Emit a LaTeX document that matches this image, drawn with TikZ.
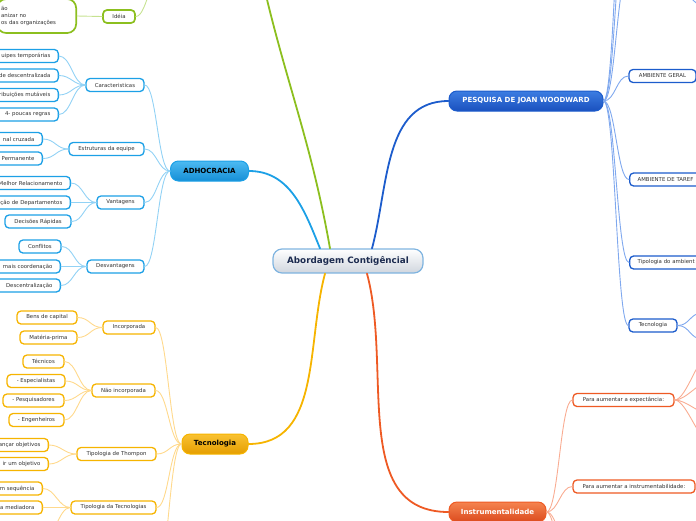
\documentclass[tikz,border=0pt]{standalone}
\usepackage{fontspec}
\setmainfont{DejaVu Sans}
\usetikzlibrary{calc}
\newlength{\upx}
\setlength{\upx}{0.03cm}
\definecolor{leafText}{HTML}{333333}
\definecolor{rootText}{HTML}{1C2B4F}
\definecolor{rootLine}{HTML}{7FB4E0}
\definecolor{rootShade}{HTML}{D0D6DE}
\definecolor{adhoLine}{HTML}{1CA0E6}
\definecolor{adhoTop}{HTML}{4CBAF2}
\definecolor{adhoBot}{HTML}{168FD6}
\definecolor{adhoTwig}{HTML}{92D2F5}
\definecolor{pesqLine}{HTML}{1C5CCC}
\definecolor{pesqTop}{HTML}{3C7DE2}
\definecolor{pesqBot}{HTML}{1A50BE}
\definecolor{pesqTwig}{HTML}{7FA8EE}
\definecolor{tecLine}{HTML}{F6B400}
\definecolor{tecTop}{HTML}{F9C232}
\definecolor{tecBot}{HTML}{E59E00}
\definecolor{tecTwig}{HTML}{FFD98C}
\definecolor{instrLine}{HTML}{EE5A24}
\definecolor{instrTop}{HTML}{F5844F}
\definecolor{instrBot}{HTML}{DB4A1E}
\definecolor{instrTwig}{HTML}{F9AC92}
\definecolor{ideiaLine}{HTML}{8CBF1F}
\definecolor{ideiaTwig}{HTML}{C6E290}

\begin{document}
\begin{tikzpicture}[x=0.03cm, y=-0.03cm, line join=round, line cap=round]
  % 统一设置：叶节点、主题节点、连线样式
  \tikzset{
    leaf/.style={font=\fontsize{4.6pt}{5.8pt}\selectfont, text=leafText, draw=#1,
      line width=1.3\upx, fill=white, rounded corners=4\upx,
      minimum height=13\upx, inner xsep=8\upx, inner ysep=0pt},
    cut left/.style={anchor=east, text width=#1, align=right},
    cut right/.style={anchor=west, text width=#1, align=left},
    topic/.style={font=\fontsize{6pt}{7pt}\selectfont\bfseries, draw=#1,
      line width=1\upx, rounded corners=8\upx, minimum height=20\upx, inner xsep=6\upx},
    twigL/.style={draw=#1, line width=0.9\upx, out=180, in=0,
      out distance=12\upx, in distance=12\upx},
    twigR/.style={draw=#1, line width=0.9\upx, out=0, in=180,
      out distance=12\upx, in distance=12\upx},
    bough/.style={draw=#1, line width=1.8\upx}
  }
  % 画布范围（与参考图同尺寸）
  \useasboundingbox (0,0) rectangle (696,520);

  % =======================
  % 中心节点
  % =======================
  \node[font=\fontsize{7.5pt}{9pt}\selectfont\bfseries, text=rootText, draw=rootLine,
    line width=1.2\upx, rounded corners=9\upx, top color=white, bottom color=rootShade,
    minimum width=150\upx, minimum height=24\upx] (root) at (348,261) {Abordagem Contigêncial};

  % =======================
  % 分支 1：ADHOCRACIA
  % =======================
  \node[topic=adhoLine, top color=adhoTop, bottom color=adhoBot, minimum width=78\upx] (adho) at (209.5,171) {ADHOCRACIA};
  \node[leaf=adhoLine, minimum width=58\upx] (adhoCar) at (115,85) {Caracteristicas};
  \node[leaf=adhoLine, minimum width=75\upx] (adhoEst) at (106.5,149) {Estruturas da equipe};
  \node[leaf=adhoLine, minimum width=47\upx] (adhoVan) at (120.5,202.5) {Vantagens};
  \node[leaf=adhoLine, minimum width=57\upx] (adhoDes) at (115.5,266.5) {Desvantagens};
  % 左侧被裁切的叶节点
  \node[leaf=adhoLine, cut left=69\upx] (adhoCar1) at (59,56) {uipes temporárias};
  \node[leaf=adhoLine, cut left=69\upx] (adhoCar2) at (59,75.5) {de descentralizada};
  \node[leaf=adhoLine, cut left=69\upx] (adhoCar3) at (59,95) {ribuições mutáveis};
  \node[leaf=adhoLine, cut left=69\upx] (adhoCar4) at (59,114.5) {4- poucas regras};
  \node[leaf=adhoLine, cut left=53\upx] (adhoEst1) at (43,139) {nal cruzada};
  \node[leaf=adhoLine, cut left=53\upx] (adhoEst2) at (43,158.5) {Permanente};
  \node[leaf=adhoLine, cut left=81\upx] (adhoVan1) at (71,183) {Melhor Relacionamento};
  \node[leaf=adhoLine, cut left=81\upx] (adhoVan2) at (71,202.5) {ção de Departamentos};
  \node[leaf=adhoLine, minimum width=66\upx] (adhoVan3) at (38,221.5) {Decisões Rápidas};
  \node[leaf=adhoLine, minimum width=42\upx] (adhoDes1) at (40,246.5) {Conflitos};
  \node[leaf=adhoLine, cut left=71\upx] (adhoDes2) at (61,266.5) {mais coordenação};
  \node[leaf=adhoLine, cut left=71\upx] (adhoDes3) at (61,285.5) {Descentralização};
  % 连线
  \draw[bough=adhoLine] (adho.east) to[out=0, in=112] ([xshift=-28\upx]root.north);
  \foreach \kid in {adhoCar, adhoEst, adhoVan, adhoDes}
    \draw[twigL=adhoTwig] (adho.west) to (\kid.east);
  \foreach \kid in {1,...,4}
    \draw[twigL=adhoTwig] (adhoCar.west) to (adhoCar\kid.east);
  \foreach \kid in {1,2}
    \draw[twigL=adhoTwig] (adhoEst.west) to (adhoEst\kid.east);
  \foreach \kid in {1,2,3}
    \draw[twigL=adhoTwig] (adhoVan.west) to (adhoVan\kid.east);
  \foreach \kid in {1,2,3}
    \draw[twigL=adhoTwig] (adhoDes.west) to (adhoDes\kid.east);

  % =======================
  % 分支 2：绿色（主题在画布外）
  % =======================
  \coordinate (greenTop) at (258,-40);
  \coordinate (ideiaUp) at (165,-40);
  \node[leaf=ideiaLine, line width=1.7\upx, minimum width=32\upx] (ideia) at (119,16.5) {Idéia};
  \node[leaf=ideiaLine, line width=1.7\upx, rounded corners=9\upx, anchor=east,
    text width=71\upx, align=left, minimum height=34\upx, inner xsep=4\upx] (ideiaBig) at (77,16)
    {ão\\anizar no\\os das organizações};
  \draw[bough=ideiaLine] ([xshift=-18\upx]root.north) to[out=100, in=-78] (greenTop);
  \draw[twigL=ideiaTwig] (ideiaUp) to (ideia.east);
  \draw[twigL=ideiaTwig] (ideia.west) to (ideiaBig.east);

  % =======================
  % 分支 3：PESQUISA DE JOAN WOODWARD
  % =======================
  \node[topic=pesqLine, top color=pesqTop, bottom color=pesqBot, text=white, minimum width=154\upx] (pesq) at (526,101) {PESQUISA DE JOAN WOODWARD};
  \node[leaf=pesqLine, minimum width=67\upx] (pesqGer) at (662.5,76) {AMBIENTE GERAL};
  \node[leaf=pesqLine, cut right=90\upx] (pesqTar) at (629,179.5) {AMBIENTE DE TAREF};
  \node[leaf=pesqLine, cut right=90\upx] (pesqTip) at (629,262.5) {Tipologia do ambient};
  \node[leaf=pesqLine, minimum width=48\upx] (pesqTec) at (653,325.5) {Tecnologia};
  % 画布外的子节点端点
  \coordinate (pesqUp1) at (629,-30);
  \coordinate (pesqUp2) at (629,-110);
  \coordinate (pesqUp3) at (629,-190);
  \coordinate (pesqTec1) at (702,313);
  \coordinate (pesqTec2) at (702,339);
  \coordinate (cornerA) at (665,-20);
  \coordinate (cornerB) at (712,12);
  \draw[bough=pesqLine] ([xshift=24\upx]root.north) to[out=75, in=180] (pesq.west);
  \foreach \kid in {pesqUp1, pesqUp2, pesqUp3, pesqGer.west, pesqTar.west, pesqTip.west, pesqTec.west}
    \draw[twigR=pesqTwig] (pesq.east) to (\kid);
  \foreach \kid in {1,2}
    \draw[twigR=pesqTwig] (pesqTec.east) to (pesqTec\kid);
  \draw[twigR=pesqTwig] (cornerA) to (cornerB);

  % =======================
  % 分支 4：Tecnologia
  % =======================
  \node[topic=tecLine, top color=tecTop, bottom color=tecBot, minimum width=66\upx] (tec) at (215,444) {Tecnologia};
  \node[leaf=tecLine, minimum width=52\upx] (tecInc) at (129,327.5) {Incorporada};
  \node[leaf=tecLine, minimum width=63\upx] (tecNao) at (123.5,390.5) {Não incorporada};
  \node[leaf=tecLine, minimum width=79\upx] (tecTho) at (116.5,454) {Tipologia de Thompon};
  \node[leaf=tecLine, minimum width=85\upx] (tecTip) at (113.5,507.5) {Tipologia da Tecnologias};
  \node[leaf=tecLine, minimum width=60\upx] (tecInc1) at (47,317.5) {Bens de capital};
  \node[leaf=tecLine, minimum width=57\upx] (tecInc2) at (48.5,337.5) {Matéria-prima};
  \node[leaf=tecLine, minimum width=41\upx] (tecNao1) at (43.5,361.5) {Técnicos};
  \node[leaf=tecLine, minimum width=58\upx] (tecNao2) at (36,381) {- Especialistas};
  \node[leaf=tecLine, minimum width=61\upx] (tecNao3) at (33.5,400.5) {- Pesquisadores};
  \node[leaf=tecLine, minimum width=55\upx] (tecNao4) at (36.5,420) {- Engenheiros};
  \node[leaf=tecLine, cut left=59\upx] (tecTho1) at (49,445) {ançar objetivos};
  \node[leaf=tecLine, cut left=59\upx] (tecTho2) at (49,464) {ir um objetivo};
  \node[leaf=tecLine, cut left=53\upx] (tecTip1) at (43,488.5) {m sequência};
  \node[leaf=tecLine, cut left=53\upx] (tecTip2) at (43,507.5) {a mediadora};
  \coordinate (tecDn) at (156,580);
  \coordinate (tecTip3) at (43,540);
  \draw[bough=tecLine] ([xshift=-23\upx]root.south) to[out=-105, in=0] (tec.east);
  \foreach \kid in {tecInc.east, tecNao.east, tecTho.east, tecTip.east, tecDn}
    \draw[twigL=tecTwig] (tec.west) to (\kid);
  \foreach \kid in {1,2}
    \draw[twigL=tecTwig] (tecInc.west) to (tecInc\kid.east);
  \foreach \kid in {1,...,4}
    \draw[twigL=tecTwig] (tecNao.west) to (tecNao\kid.east);
  \foreach \kid in {1,2}
    \draw[twigL=tecTwig] (tecTho.west) to (tecTho\kid.east);
  \foreach \kid in {tecTip1.east, tecTip2.east, tecTip3}
    \draw[twigL=tecTwig] (tecTip.west) to (\kid);

  % =======================
  % 分支 5：Instrumentalidade
  % =======================
  \node[topic=instrLine, top color=instrTop, bottom color=instrBot, text=white, minimum width=97\upx] (instr) at (497.5,512) {Instrumentalidade};
  \node[leaf=instrLine, minimum width=101\upx] (instrExp) at (623.5,400) {Para aumentar a expectância:};
  \node[leaf=instrLine, minimum width=122\upx] (instrIns) at (634,486.5) {Para aumentar a instrumentabilidade:};
  \coordinate (instrDn1) at (573,560);
  \coordinate (instrDn2) at (573,620);
  \coordinate (instrExp1) at (712,350);
  \coordinate (instrExp2) at (712,380);
  \coordinate (instrExp3) at (712,415);
  \coordinate (instrExp4) at (712,445);
  \draw[bough=instrLine] ([xshift=19\upx]root.south) to[out=-75, in=180] (instr.west);
  \foreach \kid in {instrExp.west, instrIns.west, instrDn1, instrDn2}
    \draw[twigR=instrTwig] (instr.east) to (\kid);
  \foreach \kid in {1,...,4}
    \draw[twigR=instrTwig] (instrExp.east) to (instrExp\kid);
\end{tikzpicture}
\end{document}
